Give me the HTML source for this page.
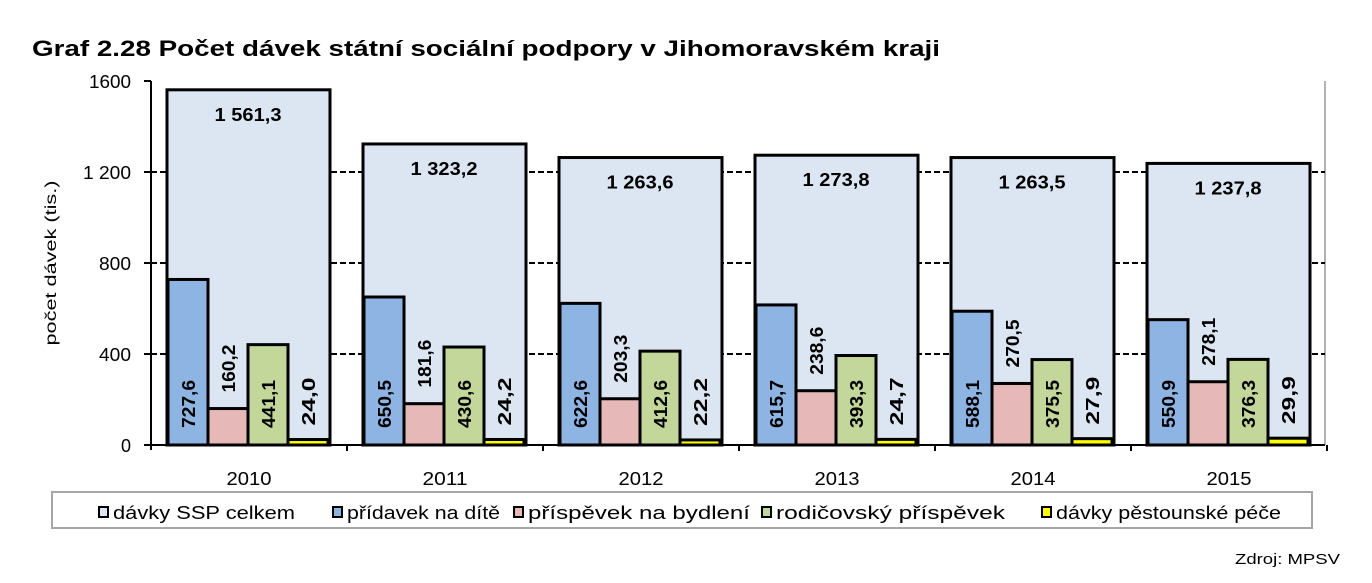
<!DOCTYPE html>
<html><head><meta charset="utf-8"><style>
html,body{margin:0;padding:0;background:#fff}
svg{display:block;font-family:"Liberation Sans",Arial,sans-serif}
</style></head><body>
<svg id="s" width="1372" height="583" viewBox="0 0 1372 583" xmlns="http://www.w3.org/2000/svg">
<text x="32" y="56" font-size="22" font-weight="bold" textLength="908" lengthAdjust="spacingAndGlyphs">Graf 2.28 Počet dávek státní sociální podpory v Jihomoravském kraji</text>
<line x1="1325" y1="81" x2="1325" y2="445" stroke="#999" stroke-width="1.5"/>
<g stroke="#000" stroke-width="2" stroke-dasharray="6,3">
<line x1="151" y1="172" x2="1325" y2="172"/><line x1="151" y1="263" x2="1325" y2="263"/><line x1="151" y1="354" x2="1325" y2="354"/>
</g>
<g font-size="18" text-anchor="end">
<text x="131" y="88" textLength="42" lengthAdjust="spacingAndGlyphs">1600</text><text x="131" y="179" textLength="48" lengthAdjust="spacingAndGlyphs">1 200</text><text x="131" y="270" textLength="32" lengthAdjust="spacingAndGlyphs">800</text><text x="131" y="361" textLength="32" lengthAdjust="spacingAndGlyphs">400</text><text x="131" y="452">0</text>
</g>
<text transform="translate(56,263) rotate(-90)" font-size="16" text-anchor="middle" textLength="165" lengthAdjust="spacingAndGlyphs">počet dávek (tis.)</text>
<g id="bars"></g>
<line x1="151" y1="81" x2="151" y2="450" stroke="#000" stroke-width="2"/>
<line x1="144" y1="445" x2="1325" y2="445" stroke="#000" stroke-width="2"/>
<g stroke="#000" stroke-width="2">
<line x1="144" y1="81" x2="151" y2="81"/><line x1="144" y1="172" x2="151" y2="172"/><line x1="144" y1="263" x2="151" y2="263"/><line x1="144" y1="354" x2="151" y2="354"/>
</g>
<rect x="52" y="492" width="1260" height="36" fill="#fff" stroke="#a6a6a6" stroke-width="2"/>
<g font-size="18">
<rect x="99" y="507" width="9" height="10" fill="#dce6f2" stroke="#000" stroke-width="2"/><text x="113" y="519" textLength="182" lengthAdjust="spacingAndGlyphs">dávky SSP celkem</text>
<rect x="333" y="507" width="9" height="10" fill="#8db4e2" stroke="#000" stroke-width="2"/><text x="347" y="519" textLength="153" lengthAdjust="spacingAndGlyphs">přídavek na dítě</text>
<rect x="514" y="507" width="9" height="10" fill="#e6b9b8" stroke="#000" stroke-width="2"/><text x="528" y="519" textLength="222" lengthAdjust="spacingAndGlyphs">příspěvek na bydlení</text>
<rect x="762" y="507" width="9" height="10" fill="#c4d79b" stroke="#000" stroke-width="2"/><text x="776" y="519" textLength="229" lengthAdjust="spacingAndGlyphs">rodičovský příspěvek</text>
<rect x="1042" y="507" width="9" height="10" fill="#ffff00" stroke="#000" stroke-width="2"/><text x="1056" y="519" textLength="225" lengthAdjust="spacingAndGlyphs">dávky pěstounské péče</text>
</g>
<text x="1340" y="564" font-size="15" text-anchor="end" textLength="105" lengthAdjust="spacingAndGlyphs">Zdroj: MPSV</text>
</svg>
<script>
var d=[["2010","1 561,3",1561.3,727.6,160.2,441.1,24.0],["2011","1 323,2",1323.2,650.5,181.6,430.6,24.2],["2012","1 263,6",1263.6,622.6,203.3,412.6,22.2],["2013","1 273,8",1273.8,615.7,238.6,393.3,24.7],["2014","1 263,5",1263.5,588.1,270.5,375.5,27.9],["2015","1 237,8",1237.8,550.9,278.1,376.3,29.9]];
function y(v){return 445-v*0.2275}
function f(v){return v.toFixed(1).replace('.',',')}
var h='';
d.forEach(function(r,i){
 var o=196*i, bx=167+o;
 h+='<rect x="'+bx+'" y="'+y(r[2])+'" width="163" height="'+(r[2]*0.2275)+'" fill="#dce6f2" stroke="#000" stroke-width="3"/>';
 h+='<text x="'+(bx+81)+'" y="'+(y(r[2])+31)+'" font-size="18" font-weight="bold" text-anchor="middle" textLength="67" lengthAdjust="spacingAndGlyphs">'+r[1]+'</text>';
 var cols=["#8db4e2","#e6b9b8","#c4d79b","#ffff00"];
 for(var k=0;k<4;k++){
  var v=r[3+k], x=bx+1+k*40, t=y(v);
  h+='<rect x="'+x+'" y="'+t+'" width="40" height="'+(445-t)+'" fill="'+cols[k]+'" stroke="#000" stroke-width="3"/>';
  var cx=x+20+7, ty;
  if(k==0||k==2){ h+='<text transform="translate('+cx+',404) rotate(-90)" font-size="18" font-weight="bold" text-anchor="middle" textLength="48" lengthAdjust="spacingAndGlyphs">'+f(v)+'</text>'; }
  else { ty=t-(k==3?14:16); h+='<text transform="translate('+cx+','+ty+') rotate(-90)" font-size="18" font-weight="bold" text-anchor="start" textLength="48" lengthAdjust="spacingAndGlyphs">'+f(v)+'</text>'; }
 }
 h+='<line x1="'+(347+o)+'" y1="445" x2="'+(347+o)+'" y2="451" stroke="#000" stroke-width="2"/>';
 h+='<text x="'+(249+o)+'" y="485" font-size="18" text-anchor="middle" textLength="45" lengthAdjust="spacingAndGlyphs">'+r[0]+'</text>';
});
document.getElementById('bars').innerHTML=h;
</script>
</body></html>
